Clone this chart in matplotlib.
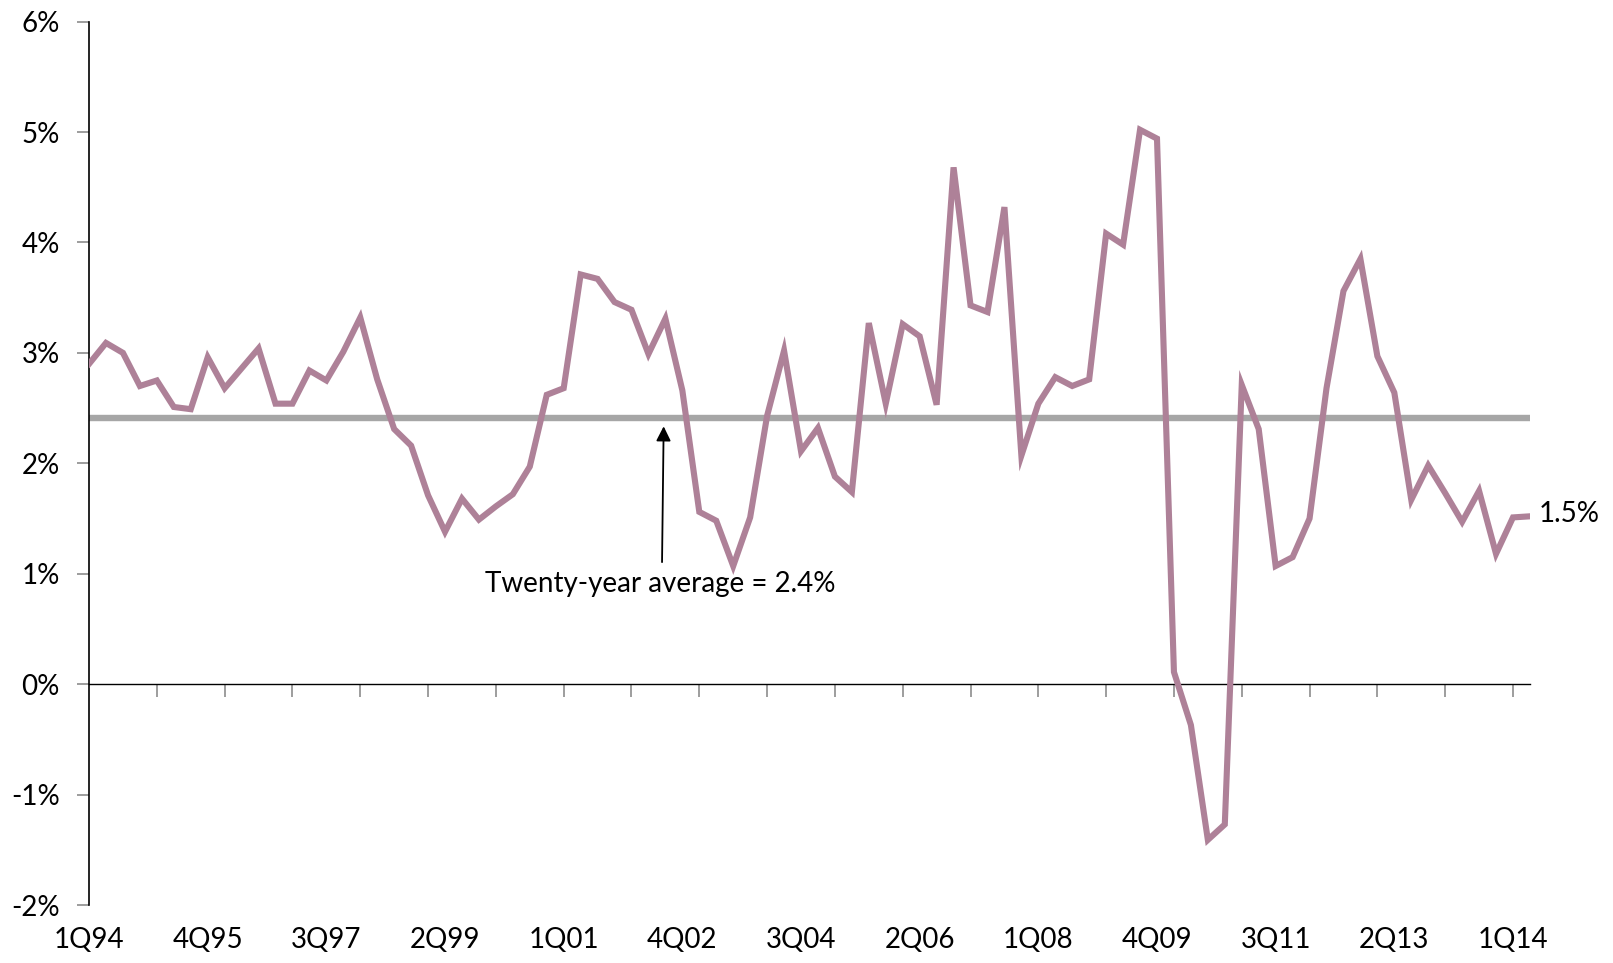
import numpy as np
import matplotlib
matplotlib.use('Agg')
import matplotlib.pyplot as plt
from matplotlib.ticker import FuncFormatter

# quarterly growth, 1Q94 onwards (%)
values = [
    2.90, 3.09, 3.00, 2.70, 2.75, 2.51, 2.49, 2.96, 2.68, 2.86,
    3.04, 2.54, 2.54, 2.84, 2.75, 3.01, 3.32, 2.76, 2.31, 2.16,
    1.71, 1.38, 1.68, 1.49, 1.61, 1.72, 1.97, 2.62, 2.68, 3.71,
    3.67, 3.46, 3.39, 2.99, 3.31, 2.66, 1.56, 1.48, 1.07, 1.51,
    2.43, 3.02, 2.11, 2.32, 1.88, 1.74, 3.27, 2.54, 3.26, 3.15,
    2.53, 4.68, 3.43, 3.37, 4.32, 2.07, 2.54, 2.78, 2.70, 2.76,
    4.08, 3.98, 5.02, 4.94, 0.11, -0.37, -1.41, -1.27, 2.71, 2.31,
    1.07, 1.15, 1.50, 2.68, 3.56, 3.85, 2.97, 2.64, 1.67, 1.98,
    1.73, 1.47, 1.75, 1.18, 1.51, 1.52,
]
average = 2.41

label_pos = [0, 7, 14, 21, 28, 35, 42, 49, 56, 63, 70, 77, 84]
label_text = ['1Q94', '4Q95', '3Q97', '2Q99', '1Q01', '4Q02', '3Q04',
              '2Q06', '1Q08', '4Q09', '3Q11', '2Q13', '1Q14']
y_ticks = [-2, -1, 0, 1, 2, 3, 4, 5, 6]

plt.rcParams['font.family'] = ['Lato', 'DejaVu Sans']

x = np.arange(len(values))

fig = plt.figure(figsize=(16.13, 9.63), dpi=100)
ax = fig.add_axes([0.0552, 0.0602, 0.9485 - 0.0552, 0.9776 - 0.0602])

ax.plot(x, [average] * len(x), color='#A6A6A6', lw=4.6, solid_capstyle='butt', zorder=2)
ax.plot(x, values, color='#AE8198', lw=4.4, solid_joinstyle='miter', zorder=3)

ax.set_xlim(0, len(x) - 1)
ax.set_ylim(-2, 6)

# spines: left axis + zero line carrying the minor tick marks
for s in ('top', 'right'):
    ax.spines[s].set_visible(False)
ax.spines['left'].set_linewidth(1.2)
ax.spines['bottom'].set_position(('data', 0))
ax.spines['bottom'].set_linewidth(1.0)

ax.set_xticks(range(4, len(x), 4))
ax.tick_params(axis='x', length=9, width=1.2, color='#8C8C8C', labelbottom=False)

ax.set_yticks(y_ticks)
ax.yaxis.set_major_formatter(FuncFormatter(lambda v, _: f'{v:.0f}%'))
ax.tick_params(axis='y', length=9, width=1.2, color='#8C8C8C', pad=12, labelsize=20)

# category labels sit at the bottom of the frame
sec = ax.secondary_xaxis(0)
sec.set_xticks(label_pos)
sec.set_xticklabels(label_text)
sec.tick_params(length=0, pad=16, labelsize=20)
sec.spines['bottom'].set_visible(False)

ax.annotate('', xy=(33.9, average - 0.05), xytext=(33.8, 1.08),
            arrowprops=dict(arrowstyle='-|>', color='black', lw=1.3, mutation_scale=22))
ax.text(33.7, 0.91, 'Twenty-year average = 2.4%', ha='center', va='center', fontsize=20)

ax.annotate('1.5%', xy=(x[-1], values[-1]), xytext=(6, 2), textcoords='offset points',
            ha='left', va='center', fontsize=20)

fig.savefig('out.png', dpi=100)
